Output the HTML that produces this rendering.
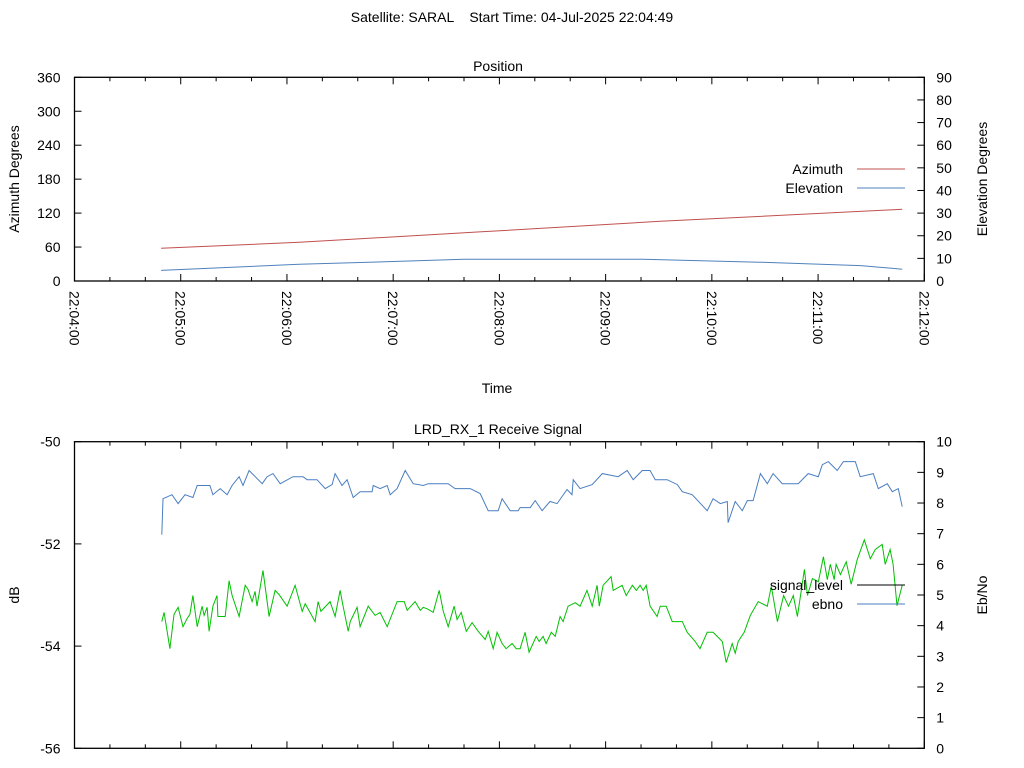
<!DOCTYPE html>
<html><head><meta charset="utf-8"><style>
html,body{margin:0;padding:0;background:#fff;}
svg{display:block;font-family:"Liberation Sans",sans-serif;}
</style></head><body>
<svg id="chart" width="1024" height="768" viewBox="0 0 1024 768" xmlns="http://www.w3.org/2000/svg">
<text x="512" y="22" font-size="14" text-anchor="middle" xml:space="preserve">Satellite: SARAL    Start Time: 04-Jul-2025 22:04:49</text>
<text x="498" y="71" font-size="14" text-anchor="middle">Position</text>
<text x="497" y="393" font-size="14" text-anchor="middle">Time</text>
<text x="498" y="434" font-size="14" text-anchor="middle">LRD_RX_1 Receive Signal</text>
<text transform="translate(19,179) rotate(-90)" font-size="14" text-anchor="middle">Azimuth Degrees</text>
<text transform="translate(987,179) rotate(-90)" font-size="14" text-anchor="middle">Elevation Degrees</text>
<text transform="translate(19,595) rotate(-90)" font-size="14" text-anchor="middle">dB</text>
<text transform="translate(987,595) rotate(-90)" font-size="14" text-anchor="middle">Eb/No</text>
<g id="topPlot"></g>
<g id="botPlot"></g>
</svg>
<script>
const azTicks=[0,60,120,180,240,300,360];
const elTicks=[0,10,20,30,40,50,60,70,80,90];
const dbTicks=[-50,-52,-54,-56];
const ebTicks=[0,1,2,3,4,5,6,7,8,9,10];
const timeLabels=["22:04:00","22:05:00","22:06:00","22:07:00","22:08:00","22:09:00","22:10:00","22:11:00","22:12:00"];
// time in seconds since 22:04:00
const azimuthPoints=[[48.9,57.8],[127,68.4],[230,87],[331,105.5],[467.5,126.7]];
const elevationPoints=[[48.9,4.7],[127,7.4],[180,8.6],[220,9.6],[321,9.6],[387,8.3],[444,6.8],[467.5,5.2]];
const ebnoPoints=[[49.3,6.97],[50.0,8.14],[55.1,8.27],[58.5,7.98],[62.4,8.27],[66.9,8.18],[69.3,8.57],[76.5,8.57],[78.2,8.27],[82.3,8.47],[86.2,8.27],[89.0,8.57],[93.0,8.86],[95.2,8.57],[98.6,9.06],[106.0,8.63],[108.8,8.86],[112.1,8.96],[116.2,8.63],[123.4,8.86],[129.1,8.86],[131.4,8.76],[137.0,8.76],[141.6,8.47],[145.5,8.60],[147.2,8.96],[151.1,8.57],[154.0,8.76],[157.4,8.18],[161.3,8.37],[168.1,8.37],[168.7,8.57],[172.6,8.47],[176.6,8.57],[178.3,8.27],[182.2,8.47],[186.8,9.06],[191.3,8.63],[197.0,8.57],[199.8,8.63],[211.1,8.63],[215.0,8.47],[223.5,8.47],[229.1,8.31],[233.7,7.75],[239.3,7.75],[241.5,8.14],[246.1,7.75],[250.6,7.75],[251.7,7.85],[257.4,7.85],[260.2,8.08],[264.1,7.75],[268.6,8.05],[272.6,7.98],[278.2,8.44],[281.0,8.27],[281.7,8.76],[285.6,8.47],[292.4,8.60],[298.1,8.96],[307.1,8.86],[312.2,9.06],[315.6,8.76],[320.7,9.06],[325.1,9.06],[328.0,8.76],[334.8,8.76],[340.5,8.60],[343.3,8.37],[348.9,8.27],[357.4,7.75],[360.7,8.14],[364.8,7.98],[368.7,8.05],[369.2,7.36],[373.2,8.05],[377.2,7.75],[380.0,8.08],[383.3,8.08],[387.4,8.96],[391.3,8.63],[394.6,8.96],[399.8,8.63],[408.8,8.63],[414.4,8.96],[420.1,8.86],[422.4,9.25],[425.8,9.35],[430.8,9.06],[434.3,9.35],[441.0,9.35],[443.8,8.86],[451.2,8.96],[454.0,8.47],[459.1,8.63],[461.9,8.37],[465.3,8.47],[467.5,7.88]];
const signalPoints=[[49.3,-53.52],[50.6,-53.34],[53.9,-54.05],[56.2,-53.38],[58.5,-53.24],[61.3,-53.62],[63.6,-53.46],[65.2,-53.38],[66.9,-53.01],[69.3,-53.62],[72.1,-53.22],[73.2,-53.40],[74.9,-53.24],[76.0,-53.71],[78.2,-53.22],[80.5,-53.01],[81.0,-53.42],[85.1,-53.42],[87.3,-52.72],[89.0,-53.01],[93.0,-53.42],[96.4,-52.81],[98.0,-52.89],[100.3,-53.13],[102.0,-52.93],[103.1,-53.22],[106.5,-52.52],[109.9,-53.42],[113.3,-52.91],[115.5,-52.99],[120.1,-53.22],[124.6,-52.81],[128.6,-53.32],[130.3,-53.17],[135.9,-53.52],[137.6,-53.13],[139.2,-53.32],[144.4,-53.13],[147.2,-53.42],[150.0,-52.91],[151.7,-53.22],[154.6,-53.71],[155.7,-53.52],[159.6,-53.24],[161.3,-53.62],[165.9,-53.22],[169.8,-53.40],[172.6,-53.34],[176.6,-53.62],[182.2,-53.13],[186.2,-53.13],[187.9,-53.30],[192.4,-53.13],[195.3,-53.30],[197.0,-53.24],[199.8,-53.28],[202.6,-53.34],[206.0,-52.91],[208.3,-53.32],[211.1,-53.62],[214.4,-53.22],[216.1,-53.48],[218.4,-53.34],[221.3,-53.71],[224.6,-53.54],[228.0,-53.71],[232.0,-53.87],[233.7,-53.71],[236.5,-54.05],[238.7,-53.73],[241.5,-53.95],[243.8,-54.05],[247.2,-53.95],[249.5,-54.05],[251.7,-54.05],[254.5,-53.73],[256.8,-54.12],[260.8,-53.81],[262.5,-53.91],[264.7,-53.81],[266.4,-53.95],[269.3,-53.73],[271.5,-53.81],[274.3,-53.42],[276.0,-53.52],[278.8,-53.22],[282.8,-53.15],[285.6,-53.22],[289.5,-52.91],[292.4,-53.22],[295.2,-52.81],[296.4,-53.22],[298.6,-52.81],[303.1,-52.64],[304.3,-52.91],[309.3,-52.81],[311.6,-53.01],[315.1,-52.81],[317.3,-52.91],[319.5,-52.81],[321.2,-52.91],[322.9,-52.81],[325.1,-53.22],[329.1,-53.42],[330.8,-53.22],[334.2,-53.22],[337.6,-53.52],[343.3,-53.52],[346.1,-53.73],[350.6,-53.91],[353.3,-54.05],[357.4,-53.73],[360.7,-53.73],[365.9,-53.91],[368.1,-54.32],[371.5,-53.95],[373.2,-54.14],[374.9,-53.91],[378.3,-53.73],[381.7,-53.40],[386.2,-53.13],[391.3,-53.22],[393.6,-52.83],[397.0,-53.52],[400.5,-53.01],[403.3,-53.22],[406.0,-53.01],[408.3,-53.42],[412.3,-52.50],[414.0,-53.01],[416.8,-52.68],[420.2,-52.74],[423.0,-52.25],[425.2,-52.70],[426.9,-52.40],[429.1,-52.70],[430.2,-52.40],[432.6,-52.60],[435.9,-52.35],[438.7,-52.79],[442.1,-52.31],[446.1,-51.92],[449.5,-52.29],[452.3,-52.11],[456.2,-52.01],[457.9,-52.40],[460.7,-52.11],[462.4,-52.40],[464.6,-53.21],[467.5,-52.81]];

const NS="http://www.w3.org/2000/svg";
const X0=74.5,X1=924.3,T0=0,T1=480;
function xs(t){return X0+(t-T0)/(T1-T0)*(X1-X0);}
function lin(d0,d1,r0,r1){return v=>r0+(v-d0)/(d1-d0)*(r1-r0);}
function mk(parent,tag,attrs){const e=document.createElementNS(NS,tag);for(const k in attrs)e.setAttribute(k,attrs[k]);parent.appendChild(e);return e;}

function frame(g,yTop,yBot,leftTicks,leftScale,rightTicks,rightScale,showTimeLabels){
  const r=mk(g,'rect',{x:X0,y:yTop,width:X1-X0,height:yBot-yTop,fill:'none',stroke:'#000','stroke-width':1.3});
  
  
  for(let s=0;s<=T1;s+=20){
    const x=xs(s),L=(s%60===0)?7:4;
    const t1=mk(g,'line',{x1:x,x2:x,y1:yBot,y2:yBot-L,stroke:'#000'});
    
    
    const t2=mk(g,'line',{x1:x,x2:x,y1:yTop,y2:yTop+L,stroke:'#000'});
    
    
  }
  if(showTimeLabels){
    timeLabels.forEach((lab,i)=>{
      const x=xs(i*60);
      const t=mk(g,'text',{transform:`translate(${x-5},${yBot+10}) rotate(90)`,'font-size':14});
      t.textContent=lab;
      
      
    });
  }
  leftTicks.forEach(v=>{
    const y=leftScale(v);
    const l=mk(g,'line',{x1:X0,x2:X0+7,y1:y,y2:y,stroke:'#000'});
    
    
    const t=mk(g,'text',{x:X0-14,y:y+5,'font-size':14,'text-anchor':'end'});
    t.textContent=v;
    
    
  });
  rightTicks.forEach(v=>{
    const y=rightScale(v);
    const l=mk(g,'line',{x1:X1,x2:X1-7,y1:y,y2:y,stroke:'#000'});
    
    
    const t=mk(g,'text',{x:X1+12,y:y+5,'font-size':14});
    t.textContent=v;
    
    
  });
}
function series(g,pts,ys,color,name){
  const p=mk(g,'polyline',{points:pts.map(d=>xs(d[0]).toFixed(1)+','+ys(d[1]).toFixed(1)).join(' '),fill:'none',stroke:color,'stroke-width':1});
  
  
}
function legend(g,y,label,color,name){
  const t=mk(g,'text',{x:843,y:y+5,'font-size':14,'text-anchor':'end'});
  t.textContent=label;
  
  
  const l=mk(g,'line',{x1:857,x2:905,y1:y,y2:y,stroke:color});
  
  
}

const topG=document.getElementById('topPlot');
const azY=lin(0,360,281,77.3), elY=lin(0,90,281,77.3);
frame(topG,77.3,281,azTicks,azY,elTicks,elY,true);
series(topG,azimuthPoints,azY,'#c0504d','azimuth-line');
series(topG,elevationPoints,elY,'#4f81bd','elevation-line');
legend(topG,169,'Azimuth','#c0504d','azimuth');
legend(topG,188,'Elevation','#4f81bd','elevation');

const botG=document.getElementById('botPlot');
const dbY=lin(-50,-56,441.7,748.3), ebY=lin(0,10,748.3,441.7);
frame(botG,441.7,748.3,dbTicks,dbY,ebTicks,ebY,false);
series(botG,ebnoPoints,ebY,'#4a7ec0','ebno-line');
series(botG,signalPoints,dbY,'#00c000','signal-level-line');
legend(botG,585,'signal_level','#000','signal-level');
legend(botG,604,'ebno','#4a7ec0','ebno');
</script>
</body></html>
